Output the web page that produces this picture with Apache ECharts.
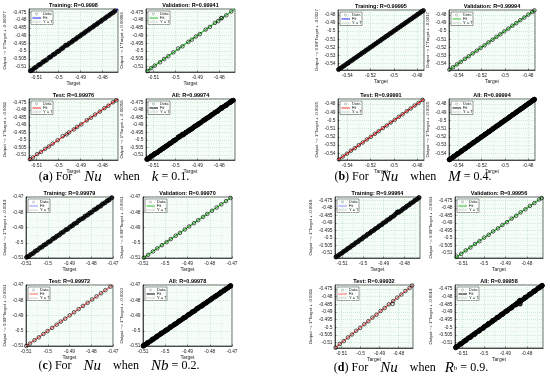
<!DOCTYPE html>
<html><head><meta charset="utf-8">
<script src="https://cdn.jsdelivr.net/npm/echarts@6/dist/echarts.min.js"></script>
<style>html,body{margin:0;padding:0;background:#fff}#c{width:550px;height:380px}</style>
</head><body><div id="c"></div>
<script>
// ================= DATA =================
// axis ranges per quadrant [min, max] (both axes share)
const rangeA = [-0.5135, -0.4728];
const rangeB = [-0.5480, -0.4740];
const rangeC = [-0.5100, -0.4700];
const rangeD = [-0.5135, -0.4725];

// panel titles (Training, Validation, Test, All) per quadrant
const titlesA = ['Training: R=0.9998', 'Validation: R=0.99941', 'Test: R=0.99976', 'All: R=0.99974'];
const titlesB = ['Training: R=0.99995', 'Validation: R=0.99994', 'Test: R=0.99991', 'All: R=0.99994'];
const titlesC = ['Training: R=0.99979', 'Validation: R=0.99970', 'Test: R=0.99972', 'All: R=0.99978'];
const titlesD = ['Training: R=0.99964', 'Validation: R=0.99956', 'Test: R=0.99932', 'All: R=0.99958'];

// y-axis fit labels
const ylabA = ['Output ~= 1*Target + -0.00077', 'Output ~= 1*Target + 0.00086', 'Output ~= 1*Target + -0.0011', 'Output ~= 1*Target + -0.00058'];
const ylabB = ['Output ~= 0.99*Target + -0.0027', 'Output ~= 1*Target + -0.0017', 'Output ~= 1*Target + -0.0025', 'Output ~= 1*Target + -0.0025'];
const ylabC = ['Output ~= 1*Target + -0.0019', 'Output ~= 0.99*Target + -0.0031', 'Output ~= 0.99*Target + -0.0031', 'Output ~= 1*Target + -0.0022'];
const ylabD = ['Output ~= 1*Target + -0.0018', 'Output ~= 0.99*Target + -0.0033', 'Output ~= 1*Target + -0.0011', 'Output ~= 1*Target + -0.0019'];

// [target, output] samples
const aTrain = [[-0.5128,-0.5127],[-0.5119,-0.5121],[-0.5110,-0.5109],[-0.5102,-0.5103],[-0.5091,-0.5090],[-0.5083,-0.5085],[-0.5072,-0.5071],[-0.5064,-0.5064],[-0.5055,-0.5057],[-0.5043,-0.5042],[-0.5036,-0.5037],[-0.5025,-0.5024],[-0.5017,-0.5018],[-0.5006,-0.5005],[-0.4998,-0.4999],[-0.4987,-0.4986],[-0.4979,-0.4978],[-0.4968,-0.4963],[-0.4960,-0.4961],[-0.4951,-0.4950],[-0.4940,-0.4941],[-0.4932,-0.4931],[-0.4921,-0.4922],[-0.4913,-0.4912],[-0.4902,-0.4903],[-0.4894,-0.4893],[-0.4883,-0.4884],[-0.4875,-0.4874],[-0.4864,-0.4865],[-0.4856,-0.4855],[-0.4845,-0.4846],[-0.4837,-0.4836],[-0.4826,-0.4827],[-0.4818,-0.4817],[-0.4807,-0.4808],[-0.4799,-0.4798],[-0.4788,-0.4789],[-0.4780,-0.4779],[-0.4769,-0.4770],[-0.4761,-0.4760],[-0.4750,-0.4751],[-0.4742,-0.4741]];
const aVal = [[-0.5128,-0.5129],[-0.5112,-0.5110],[-0.5095,-0.5094],[-0.5071,-0.5072],[-0.5052,-0.5051],[-0.5033,-0.5033],[-0.5010,-0.5008],[-0.4988,-0.4983],[-0.4968,-0.4969],[-0.4941,-0.4940],[-0.4925,-0.4926],[-0.4907,-0.4906],[-0.4889,-0.4890],[-0.4862,-0.4861],[-0.4843,-0.4844],[-0.4820,-0.4818],[-0.4805,-0.4806],[-0.4792,-0.4788],[-0.4788,-0.4786],[-0.4768,-0.4769],[-0.4745,-0.4744]];
const aTest = [[-0.5131,-0.5130],[-0.5117,-0.5118],[-0.5098,-0.5096],[-0.5080,-0.5081],[-0.5061,-0.5060],[-0.5044,-0.5045],[-0.5027,-0.5026],[-0.5004,-0.5003],[-0.4981,-0.4976],[-0.4963,-0.4964],[-0.4952,-0.4951],[-0.4930,-0.4931],[-0.4915,-0.4914],[-0.4896,-0.4897],[-0.4871,-0.4870],[-0.4852,-0.4853],[-0.4833,-0.4832],[-0.4811,-0.4812],[-0.4790,-0.4789],[-0.4772,-0.4773],[-0.4751,-0.4750],[-0.4736,-0.4737]];

const bTrain = [[-0.5475,-0.5474],[-0.5458,-0.5459],[-0.5441,-0.5440],[-0.5424,-0.5425],[-0.5406,-0.5405],[-0.5390,-0.5391],[-0.5372,-0.5371],[-0.5355,-0.5356],[-0.5339,-0.5338],[-0.5321,-0.5322],[-0.5305,-0.5304],[-0.5287,-0.5288],[-0.5271,-0.5270],[-0.5253,-0.5254],[-0.5237,-0.5236],[-0.5219,-0.5220],[-0.5203,-0.5202],[-0.5185,-0.5186],[-0.5169,-0.5168],[-0.5151,-0.5152],[-0.5135,-0.5134],[-0.5117,-0.5118],[-0.5101,-0.5100],[-0.5083,-0.5084],[-0.5067,-0.5066],[-0.5049,-0.5050],[-0.5033,-0.5032],[-0.5015,-0.5016],[-0.4999,-0.4998],[-0.4981,-0.4982],[-0.4965,-0.4964],[-0.4947,-0.4948],[-0.4931,-0.4930],[-0.4913,-0.4914],[-0.4897,-0.4896],[-0.4879,-0.4880],[-0.4863,-0.4862],[-0.4845,-0.4846],[-0.4829,-0.4828],[-0.4811,-0.4812],[-0.4795,-0.4794],[-0.4777,-0.4778],[-0.4761,-0.4760],[-0.4746,-0.4747]];
const bVal = [[-0.5477,-0.5476],[-0.5446,-0.5447],[-0.5412,-0.5411],[-0.5379,-0.5380],[-0.5343,-0.5342],[-0.5310,-0.5311],[-0.5276,-0.5275],[-0.5241,-0.5242],[-0.5208,-0.5207],[-0.5174,-0.5175],[-0.5140,-0.5139],[-0.5105,-0.5106],[-0.5072,-0.5071],[-0.5038,-0.5039],[-0.5004,-0.5003],[-0.4969,-0.4970],[-0.4935,-0.4934],[-0.4901,-0.4902],[-0.4867,-0.4866],[-0.4832,-0.4833],[-0.4798,-0.4797],[-0.4764,-0.4765],[-0.4745,-0.4744]];
const bTest = [[-0.5472,-0.5473],[-0.5439,-0.5438],[-0.5403,-0.5404],[-0.5369,-0.5368],[-0.5336,-0.5337],[-0.5301,-0.5300],[-0.5267,-0.5268],[-0.5232,-0.5231],[-0.5198,-0.5199],[-0.5163,-0.5162],[-0.5130,-0.5131],[-0.5094,-0.5093],[-0.5061,-0.5062],[-0.5026,-0.5025],[-0.4992,-0.4993],[-0.4957,-0.4956],[-0.4924,-0.4925],[-0.4889,-0.4888],[-0.4855,-0.4856],[-0.4820,-0.4819],[-0.4787,-0.4788],[-0.4752,-0.4751]];

const cTrain = [[-0.5097,-0.5095],[-0.5088,-0.5089],[-0.5078,-0.5077],[-0.5067,-0.5069],[-0.5058,-0.5056],[-0.5048,-0.5049],[-0.5037,-0.5035],[-0.5027,-0.5028],[-0.5018,-0.5016],[-0.5008,-0.5009],[-0.4997,-0.4996],[-0.4988,-0.4990],[-0.4977,-0.4975],[-0.4967,-0.4968],[-0.4958,-0.4957],[-0.4947,-0.4949],[-0.4938,-0.4936],[-0.4928,-0.4929],[-0.4917,-0.4915],[-0.4908,-0.4910],[-0.4897,-0.4896],[-0.4887,-0.4888],[-0.4878,-0.4876],[-0.4867,-0.4869],[-0.4858,-0.4855],[-0.4848,-0.4846],[-0.4837,-0.4839],[-0.4828,-0.4826],[-0.4817,-0.4818],[-0.4807,-0.4806],[-0.4798,-0.4799],[-0.4787,-0.4785],[-0.4777,-0.4778],[-0.4768,-0.4767],[-0.4757,-0.4759],[-0.4748,-0.4746],[-0.4737,-0.4738],[-0.4727,-0.4726],[-0.4718,-0.4719],[-0.4706,-0.4705]];
const cVal = [[-0.5096,-0.5098],[-0.5077,-0.5079],[-0.5055,-0.5057],[-0.5036,-0.5037],[-0.5015,-0.5016],[-0.4994,-0.4996],[-0.4975,-0.4976],[-0.4953,-0.4954],[-0.4934,-0.4935],[-0.4912,-0.4913],[-0.4893,-0.4893],[-0.4871,-0.4872],[-0.4852,-0.4852],[-0.4830,-0.4831],[-0.4811,-0.4811],[-0.4790,-0.4790],[-0.4769,-0.4769],[-0.4748,-0.4748],[-0.4727,-0.4727],[-0.4707,-0.4706]];
const cTest = [[-0.5099,-0.5100],[-0.5082,-0.5084],[-0.5061,-0.5062],[-0.5041,-0.5043],[-0.5020,-0.5021],[-0.5001,-0.5002],[-0.4980,-0.4981],[-0.4959,-0.4960],[-0.4940,-0.4940],[-0.4920,-0.4921],[-0.4899,-0.4899],[-0.4879,-0.4879],[-0.4858,-0.4858],[-0.4838,-0.4837],[-0.4817,-0.4817],[-0.4796,-0.4795],[-0.4776,-0.4775],[-0.4755,-0.4754],[-0.4735,-0.4734],[-0.4712,-0.4711]];

const dTrain = [[-0.5130,-0.5128],[-0.5121,-0.5122],[-0.5112,-0.5110],[-0.5101,-0.5102],[-0.5093,-0.5091],[-0.5082,-0.5083],[-0.5074,-0.5072],[-0.5063,-0.5064],[-0.5054,-0.5052],[-0.5044,-0.5045],[-0.5035,-0.5033],[-0.5024,-0.5025],[-0.5016,-0.5014],[-0.5005,-0.5006],[-0.4997,-0.4995],[-0.4986,-0.4987],[-0.4978,-0.4976],[-0.4967,-0.4968],[-0.4959,-0.4957],[-0.4948,-0.4949],[-0.4940,-0.4938],[-0.4929,-0.4930],[-0.4921,-0.4919],[-0.4910,-0.4911],[-0.4902,-0.4900],[-0.4891,-0.4892],[-0.4883,-0.4881],[-0.4872,-0.4873],[-0.4864,-0.4862],[-0.4853,-0.4854],[-0.4845,-0.4843],[-0.4836,-0.4830],[-0.4832,-0.4825],[-0.4826,-0.4827],[-0.4815,-0.4816],[-0.4807,-0.4805],[-0.4796,-0.4797],[-0.4788,-0.4786],[-0.4777,-0.4778],[-0.4769,-0.4767],[-0.4758,-0.4759],[-0.4750,-0.4748],[-0.4739,-0.4740],[-0.4730,-0.4729]];
const dVal = [[-0.5127,-0.5126],[-0.5106,-0.5107],[-0.5085,-0.5084],[-0.5063,-0.5064],[-0.5042,-0.5041],[-0.5021,-0.5022],[-0.4999,-0.4998],[-0.4978,-0.4979],[-0.4957,-0.4956],[-0.4935,-0.4936],[-0.4914,-0.4913],[-0.4893,-0.4894],[-0.4871,-0.4870],[-0.4850,-0.4851],[-0.4829,-0.4828],[-0.4807,-0.4808],[-0.4786,-0.4785],[-0.4765,-0.4766],[-0.4743,-0.4742],[-0.4731,-0.4732]];
const dTest = [[-0.5132,-0.5133],[-0.5110,-0.5109],[-0.5089,-0.5090],[-0.5067,-0.5066],[-0.5046,-0.5047],[-0.5024,-0.5023],[-0.5003,-0.5004],[-0.4981,-0.4980],[-0.4960,-0.4961],[-0.4938,-0.4937],[-0.4917,-0.4918],[-0.4895,-0.4894],[-0.4874,-0.4875],[-0.4852,-0.4851],[-0.4832,-0.4848],[-0.4829,-0.4830],[-0.4808,-0.4807],[-0.4786,-0.4787],[-0.4765,-0.4764],[-0.4743,-0.4744],[-0.4729,-0.4728]];

// fit line end points per panel (Training, Validation, Test, All)
const fitA = [[[-0.5135,-0.5134],[-0.4728,-0.4728]],[[-0.5135,-0.5133],[-0.4728,-0.4727]],[[-0.5135,-0.5136],[-0.4728,-0.4728]],[[-0.5135,-0.5135],[-0.4728,-0.4728]]];
const fitB = [[[-0.5480,-0.5479],[-0.4740,-0.4741]],[[-0.5480,-0.5480],[-0.4740,-0.4740]],[[-0.5480,-0.5480],[-0.4740,-0.4740]],[[-0.5480,-0.5480],[-0.4740,-0.4740]]];
const fitC = [[[-0.5100,-0.5099],[-0.4700,-0.4700]],[[-0.5100,-0.5102],[-0.4700,-0.4699]],[[-0.5100,-0.5102],[-0.4700,-0.4699]],[[-0.5100,-0.5100],[-0.4700,-0.4700]]];
const fitD = [[[-0.5135,-0.5134],[-0.4725,-0.4725]],[[-0.5135,-0.5135],[-0.4725,-0.4724]],[[-0.5135,-0.5135],[-0.4725,-0.4726]],[[-0.5135,-0.5135],[-0.4725,-0.4725]]];

// ================= LAYOUT =================
const fitColors = ['#1010ff', '#22bb22', '#ff2020', '#000000'];
const fitColorsCD = ['#8c8cff', '#22bb22', '#ff6060', '#000000'];
const markSize = [4.2, 3.6, 3.6, 4.4];
const markBorder = [1.0, 0.8, 0.8, 1.0];
const markFill = ['#000', 'rgba(0,0,0,0)', 'rgba(0,0,0,0)', '#000'];

const quads = [
  {range: rangeA, titles: titlesA, ylab: ylabA, sets: [aTrain, aVal, aTest, aTrain.concat(aVal, aTest)], fits: fitA, colors: fitColors,
   boxes: [[29,9,89,63],[146,9,89,63],[29,99,89,61],[146,99,89,61]], xs: 4, ys: 8, edge: false, yGap: 22},
  {range: rangeB, titles: titlesB, ylab: ylabB, sets: [bTrain, bVal, bTest, bTrain.concat(bVal, bTest)], fits: fitB, colors: fitColors,
   boxes: [[338,10,86,60],[449,10,86,60],[338,99,86,61],[449,99,86,61]], xs: 4, ys: 7, edge: false, yGap: 19},
  {range: rangeC, titles: titlesC, ylab: ylabC, sets: [cTrain, cVal, cTest, cTrain.concat(cVal, cTest)], fits: fitC, colors: fitColorsCD,
   boxes: [[26,197,87,61],[143,197,89,61],[26,285,87,61],[143,285,89,61]], xs: 4, ys: 4, edge: true, yGap: 19},
  {range: rangeD, titles: titlesD, ylab: ylabD, sets: [dTrain, dVal, dTest, dTrain.concat(dVal, dTest)], fits: fitD, colors: fitColorsCD,
   boxes: [[335,197,85,61],[455,197,88,61],[335,285,78,63],[455,285,88,63]], xs: 4, ys: 8, edge: false, yGap: 22}
];

const FONT = '"Liberation Sans", Arial, sans-serif';
const grid = [], xAxis = [], yAxis = [], series = [], graphic = [];
let gi = 0;
quads.forEach(q => {
  for (let k = 0; k < 4; k++) {
    const [l, t, w, h] = q.boxes[k];
    const r = q.range;
    grid.push({left: l, top: t, width: w, height: h, show: true, borderColor: '#000', borderWidth: 0.6, backgroundColor: '#f6fcf8', containLabel: false});
    const splitLine = {show: true, lineStyle: {color: '#a8dab7', width: 0.5, type: [1, 1]}};
    const minorSplitLine = {show: true, lineStyle: {color: '#c6e8d0', width: 0.5, type: [1, 1.5]}};
    xAxis.push({gridIndex: gi, type: 'value', min: r[0], max: r[1], splitNumber: q.xs,
      name: 'Target', nameLocation: 'middle', nameGap: 9, nameTextStyle: {fontSize: 5, color: '#222', fontFamily: FONT},
      axisLine: {show: true, onZero: false, lineStyle: {color: '#000', width: 0.6}},
      axisTick: {show: true, inside: true, length: 1.5, lineStyle: {color: '#000', width: 0.5}},
      axisLabel: {fontSize: 4.8, color: '#222', margin: 3, fontFamily: FONT, showMinLabel: q.edge, showMaxLabel: q.edge, hideOverlap: false},
      splitLine, minorTick: {show: false, splitNumber: 2}, minorSplitLine});
    yAxis.push({gridIndex: gi, type: 'value', min: r[0], max: r[1], splitNumber: q.ys,
      name: q.ylab[k], nameLocation: 'middle', nameRotate: 90, nameGap: q.yGap,
      nameTextStyle: {fontSize: 4.3, color: '#222', fontFamily: FONT},
      axisLine: {show: true, onZero: false, lineStyle: {color: '#000', width: 0.6}},
      axisTick: {show: true, inside: true, length: 1.5, lineStyle: {color: '#000', width: 0.5}},
      axisLabel: {fontSize: 4.8, color: '#222', margin: 2.5, fontFamily: FONT, showMinLabel: q.edge, showMaxLabel: q.edge, hideOverlap: false},
      splitLine, minorTick: {show: false, splitNumber: 2}, minorSplitLine});
    series.push({type: 'line', xAxisIndex: gi, yAxisIndex: gi, data: [[r[0], r[0]], [r[1], r[1]]], symbol: 'none', silent: true,
      lineStyle: {color: '#444', width: 0.6, type: [1, 1]}, z: 2, animation: false});
    series.push({type: 'line', xAxisIndex: gi, yAxisIndex: gi, data: q.fits[k], symbol: 'none', silent: true,
      lineStyle: {color: q.colors[k], width: 1.1}, z: 3, animation: false});
    series.push({type: 'scatter', xAxisIndex: gi, yAxisIndex: gi, data: q.sets[k], symbol: 'circle', symbolSize: markSize[k], silent: true,
      itemStyle: {color: markFill[k], borderColor: '#000', borderWidth: markBorder[k]}, z: 4, animation: false});
    // title
    graphic.push({type: 'text', x: l + w / 2, y: t - 3.5, z: 100,
      style: {text: q.titles[k], font: 'bold 5.5px ' + FONT, fill: '#000', align: 'center', verticalAlign: 'middle'}});
    // legend
    const tf = '4px ' + FONT;
    graphic.push({type: 'group', x: l + 2, y: t + 2, z: 100, children: [
      {type: 'rect', shape: {x: 0, y: 0, width: 22, height: 13.5}, style: {fill: '#fff', stroke: '#000', lineWidth: 0.4}},
      {type: 'circle', shape: {cx: 5.5, cy: 3, r: 1.1}, style: {fill: 'none', stroke: '#777', lineWidth: 0.4}},
      {type: 'text', x: 12, y: 3, style: {text: 'Data', font: tf, fill: '#000', verticalAlign: 'middle'}},
      {type: 'line', shape: {x1: 1.5, y1: 7, x2: 10, y2: 7}, style: {stroke: q.colors[k], lineWidth: 1}},
      {type: 'text', x: 12, y: 7, style: {text: 'Fit', font: tf, fill: '#000', verticalAlign: 'middle'}},
      {type: 'line', shape: {x1: 1.5, y1: 11, x2: 10, y2: 11}, style: {stroke: '#444', lineWidth: 0.5, lineDash: [1, 1]}},
      {type: 'text', x: 12, y: 11, style: {text: 'Y = T', font: tf, fill: '#000', verticalAlign: 'middle'}}
    ]});
    gi++;
  }
});

// captions
const SERIF = '"Liberation Serif", "DejaVu Serif", serif';
const rich = {
  n: {fontFamily: SERIF, fontSize: 12, color: '#000'},
  b: {fontFamily: SERIF, fontSize: 12, fontWeight: 'bold', color: '#000'},
  i: {fontFamily: SERIF, fontSize: 15, fontStyle: 'italic', color: '#000'},
  s: {fontFamily: SERIF, fontSize: 7, color: '#000'}
};
const captions = [
  {x: 114, y: 177, text: '{n|(}{b|a}{n|) For    }{i|Nu}{n|    when    }{i|k}{n| = 0.1.}'},
  {x: 413, y: 177, text: '{n|(}{b|b}{n|) For    }{i|Nu}{n|    when    }{i|M}{n| = 0.4.}'},
  {x: 119, y: 366, text: '{n|(}{b|c}{n|) For    }{i|Nu}{n|    when    }{i|Nb}{n| = 0.2.}'},
  {x: 411, y: 368, text: '{n|(}{b|d}{n|) For    }{i|Nu}{n|    when   }{i|R}{s|b}{n| = 0.9.}'}
];
captions.forEach(c => graphic.push({type: 'text', x: c.x, y: c.y, z: 100,
  style: {text: c.text, rich, align: 'center', verticalAlign: 'middle', font: '12px ' + SERIF, fill: '#000'}}));

const chart = echarts.init(document.getElementById('c'), null, {renderer: 'canvas'});
chart.setOption({animation: false, backgroundColor: '#fff', grid, xAxis, yAxis, series, graphic});
</script>
</body></html>
